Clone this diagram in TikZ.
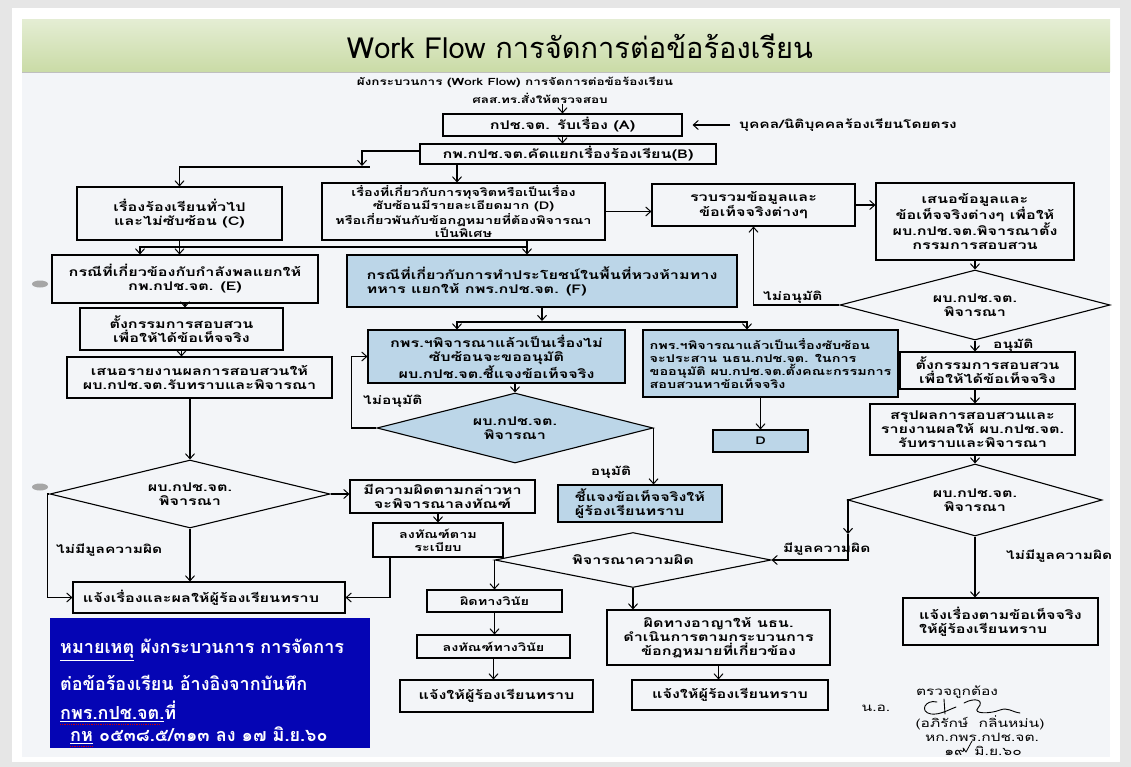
\documentclass[tikz,border=0pt]{standalone}
\usepackage{fontspec}
\setmainfont[Script=Thai]{Loma}
\newfontfamily\scan[Script=Thai,FakeStretch=1.35]{Loma}
\newfontfamily\ttl[Script=Thai]{Loma}
\usetikzlibrary{arrows.meta,shapes.geometric,calc}
\definecolor{canvas}{HTML}{E6E6E6}
\definecolor{paper}{HTML}{F3F5F8}
\definecolor{bandtop}{HTML}{E4EDD3}
\definecolor{bandbot}{HTML}{CADBA6}
\definecolor{lblue}{HTML}{BCD6E8}
\definecolor{noteblue}{HTML}{0505B4}
\tikzset{
  box/.style={draw=black, line width=1.1pt, fill=paper, inner sep=1pt, align=center,
    font=\scan\bfseries\fontsize{12}{14}\selectfont},
  sbox/.style={box, font=\scan\bfseries\fontsize{10.7}{13}\selectfont},
  bbox/.style={box, fill=lblue},
  sbbox/.style={sbox, fill=lblue},
  dia/.style={box, diamond, aspect=4, inner sep=0pt},
  arr/.style={line width=1.1pt, -{Straight Barb[length=5pt,width=9pt,line width=1pt]}},
  ln/.style={line width=1.1pt},
  lbl/.style={font=\scan\bfseries\fontsize{11.5}{13}\selectfont, inner sep=1pt},
  hdr/.style={font=\scan\bfseries\fontsize{10}{12}\selectfont, inner sep=1pt},
  sig/.style={font=\scan\fontsize{11.5}{13}\selectfont, inner sep=0pt},
  notetxt/.style={font=\ttl\bfseries\fontsize{18}{20}\selectfont, text=white, inner sep=0pt, anchor=west},
}
\begin{document}
\begin{tikzpicture}[x=1pt,y=-1pt]
\useasboundingbox (0,0) rectangle (1131,767);
% background
\fill[canvas] (0,0) rectangle (1131,767);
\fill[white] (12,8) rectangle (1120,762);
\fill[paper] (22,72) rectangle (1110,757);
\shade[top color=bandtop, bottom color=bandbot] (22,20) rectangle (1110,72);
\draw[gray!50, line width=0.6pt] (22,72) -- (1110,72);
\node[font=\ttl\fontsize{29}{32}\selectfont] (title) at (580,46) {Work Flow การจัดการต่อข้อร้องเรียน};
% punch marks
\fill[gray!70] (40,284) ellipse [x radius=8pt, y radius=3.5pt];
\fill[gray!70] (40,487) ellipse [x radius=8pt, y radius=3.5pt];

% header
\node[hdr] (h1) at (515,82) {ผังกระบวนการ (Work Flow) การจัดการต่อข้อร้องเรียน};
\node[hdr] (h2) at (540,98) {ศลส.ทร.สั่งให้ตรวจสอบ};

% top boxes
\node[box, minimum width=239pt, minimum height=22pt] (A) at (562.5,125) {กปช.จต. รับเรื่อง (A)};
\node[lbl, anchor=west] (src) at (738,125) {บุคคล/นิติบุคคลร้องเรียนโดยตรง};
\node[box, minimum width=296pt, minimum height=20pt] (B) at (568,154) {กพ.กปช.จต.คัดแยกเรื่องร้องเรียน(B)};

\node[box, minimum width=205pt, minimum height=53pt] (C) at (179.5,213.5) {เรื่องร้องเรียนทั่วไป\\และไม่ซับซ้อน (C)};
\node[sbox, minimum width=283pt, minimum height=57pt] (D) at (463.5,211.5) {เรื่องที่เกี่ยวกับการทุจริตหรือเป็นเรื่อง\\ซับซ้อนมีรายละเอียดมาก (D)\\หรือเกี่ยวพันกับข้อกฎหมายที่ต้องพิจารณา\\เป็นพิเศษ};
\node[box, minimum width=203pt, minimum height=42pt] (G) at (753.5,205) {รวบรวมข้อมูลและ\\ข้อเท็จจริงต่างๆ};
\node[box, minimum width=198pt, minimum height=77pt] (H) at (975,221.5) {เสนอข้อมูลและ\\ข้อเท็จจริงต่างๆ เพื่อให้\\ผบ.กปช.จต.พิจารณาตั้ง\\กรรมการสอบสวน};

% left column
\node[box, minimum width=266pt, minimum height=48pt] (E) at (185,279) {กรณีที่เกี่ยวข้องกับกำลังพลแยกให้\\กพ.กปช.จต. (E)};
\node[box, minimum width=203pt, minimum height=42pt] (E2) at (181.5,329) {ตั้งกรรมการสอบสวน\\เพื่อให้ได้ข้อเท็จจริง};
\node[box, minimum width=265pt, minimum height=41pt] (E3) at (199.5,377.5) {เสนอรายงานผลการสอบสวนให้\\ผบ.กปช.จต.รับทราบและพิจารณา};
\node[dia, minimum width=280pt, minimum height=68pt] (DL) at (190,494) {ผบ.กปช.จต.\\พิจารณา};
\node[box, minimum width=272pt, minimum height=31pt, align=left] (U) at (209,597.5) {แจ้งเรื่องและผลให้ผู้ร้องเรียนทราบ\hspace*{16pt}};
\node[box, minimum width=185pt, minimum height=33pt] (S) at (442.5,496.5) {มีความผิดตามกล่าวหา\\จะพิจารณาลงทัณฑ์};
\node[sbox, minimum width=130pt, minimum height=34pt] (T) at (438,540) {ลงทัณฑ์ตาม\\ระเบียบ};

% middle (blue)
\node[bbox, minimum width=390pt, minimum height=52pt, align=left] (F) at (542,281) {กรณีที่เกี่ยวกับการทำประโยชน์ในพื้นที่หวงห้ามทาง\\ทหาร แยกให้ กพร.กปช.จต. (F)};
\node[bbox, minimum width=257pt, minimum height=53pt] (L) at (496.5,356.5) {กพร.ฯพิจารณาแล้วเป็นเรื่องไม่\\ซับซ้อนจะขออนุมัติ\\ผบ.กปช.จต.ชี้แจงข้อเท็จจริง};
\node[sbbox, minimum width=255pt, minimum height=67pt, align=left] (M) at (770.5,363.5) {กพร.ฯพิจารณาแล้วเป็นเรื่องซับซ้อน\\จะประสาน นธน.กปช.จต. ในการ\\ขออนุมัติ ผบ.กปช.จต.ตั้งคณะกรรมการ\\สอบสวนหาข้อเท็จจริง};
\node[sbbox, minimum width=95pt, minimum height=22pt] (N) at (760.5,441) {D};
\node[dia, fill=lblue, minimum width=276pt, minimum height=70pt] (P1) at (515,428) {ผบ.กปช.จต.\\พิจารณา};
\node[bbox, minimum width=164pt, minimum height=37pt, align=left] (Q) at (640,503.5) {ชี้แจงข้อเท็จจริงให้\\ผู้ร้องเรียนทราบ};

% bottom middle
\node[dia, minimum width=276pt, minimum height=55pt] (P) at (633,560) {พิจารณาความผิด};
\node[sbox, minimum width=135pt, minimum height=22pt] (V) at (494.5,601) {ผิดทางวินัย};
\node[sbox, minimum width=153pt, minimum height=23pt] (W) at (493.5,646.5) {ลงทัณฑ์ทางวินัย};
\node[box, minimum width=193pt, minimum height=32pt] (X) at (496.5,696) {แจ้งให้ผู้ร้องเรียนทราบ};
\node[box, minimum width=223pt, minimum height=55pt] (Y) at (718.5,637.5) {ผิดทางอาญาให้ นธน.\\ดำเนินการตามกระบวนการ\\ข้อกฎหมายที่เกี่ยวข้อง};
\node[box, minimum width=196pt, minimum height=30pt] (Z) at (730,695) {แจ้งให้ผู้ร้องเรียนทราบ};

% right column
\node[dia, minimum width=270pt, minimum height=70pt] (R1) at (975,305) {ผบ.กปช.จต.\\พิจารณา};
\node[box, minimum width=175pt, minimum height=37pt] (I) at (987.5,370.5) {ตั้งกรรมการสอบสวน\\เพื่อให้ได้ข้อเท็จจริง};
\node[box, minimum width=205pt, minimum height=51pt] (J) at (972.5,429.5) {สรุปผลการสอบสวนและ\\รายงานผลให้ ผบ.กปช.จต.\\รับทราบและพิจารณา};
\node[dia, minimum width=254pt, minimum height=72pt] (R2) at (975,500) {ผบ.กปช.จต.\\พิจารณา};
\node[box, minimum width=195pt, minimum height=47pt, align=left] (K) at (1000.5,621.5) {แจ้งเรื่องตามข้อเท็จจริง\\ให้ผู้ร้องเรียนทราบ};

% labels
\node[lbl, anchor=west] (l1) at (762,297) {ไม่อนุมัติ};
\node[lbl, anchor=west] (l2) at (992,345) {อนุมัติ};
\node[lbl, anchor=west] (l3) at (362,401) {ไม่อนุมัติ};
\node[lbl] (l4) at (611,472) {อนุมัติ};
\node[lbl, anchor=west] (l5) at (55,550) {ไม่มีมูลความผิด};
\node[lbl, anchor=west] (l6) at (782,549) {มีมูลความผิด};
\node[lbl, anchor=west] (l7) at (1005,556) {ไม่มีมูลความผิด};

% connectors top
\draw[arr] (h2.south -| A.north) -- (A.north);
\draw[arr, shorten >=10pt, shorten <=8pt] (src.west) -- (A.east);
\draw[arr] (A.south) -- (A.south |- B.north);
\coordinate (bl) at (362,167);
\draw[arr] ([yshift=3pt]B.west) -| ([yshift=1pt]bl);
\draw[arr] (bl) -- ++(8,0) (bl) -| (C.north);
\draw[arr] ([xshift=-111pt]B.south) -- ([xshift=-111pt]B.south |- D.north);
\draw[arr] (D.east) -- (G.west |- D.east);
\draw[arr] (G.east) -- (H.west |- G.east);
\draw[arr] (H.south) -- (R1.north);
\draw[arr] (R1.west) -| (G.south);
\draw[arr] (R1.south) -- (R1.south |- I.north);
\draw[arr] (I.south -| R1.south) -- (J.north -| R1.south);
\draw[arr] (J.south -| R2.north) -- (R2.north);
\draw[arr] (R2.south) -- (R2.south |- K.north);
\coordinate (r2a) at (848,534);
\draw[arr] (R2.west) -| (r2a);
\draw[arr] (r2a) |- (P.east);

% D to F and E
\coordinate (dsp) at (527,247);
\draw[ln] (D.south -| dsp) -- (dsp);
\draw[arr] (dsp) -- (dsp |- F.north);
\draw[arr] (dsp) -| ([xshift=-45pt]E.north);
\draw[arr] (C.south) -- (C.south |- E.north);

% left column
\draw[arr] (E.south) -- (E.south |- E2.north);
\draw[arr] (E2.south) -- (E2.south |- E3.north);
\draw[arr] (DL.north |- E3.south) -- (DL.north);
\draw[arr] (DL.south) -- (DL.south |- U.north);
\draw[arr] (DL.west) -- ++(-2,0) |- (U.west);
\draw[arr] (DL.east) -- (S.west |- DL.east);
\draw[arr] (T.north |- S.south) -- (T.north);
\draw[arr] ([xshift=-48pt]T.south) |- (U.east);

% middle
\coordinate (fsp) at (542,322);
\draw[arr] (F.south) -- ([yshift=1pt]fsp);
\draw[arr] (fsp) -| ([xshift=-39.5pt]L.north);
\draw[arr] (fsp) -| ([xshift=-23.5pt]M.north);
\draw[arr] (N.north |- M.south) -- (N.north);
\draw[arr] (P1.north |- L.south) -- (P1.north);
\draw[arr] (P1.west) -- ++(-25,0) |- (L.west);
\draw[arr] (P1.east) -- (P1.east |- Q.north);

% bottom middle
\draw[arr] (P.west) -- (P.west |- V.north);
\draw[arr] (P.south) -- (P.south |- Y.north);
\draw[arr] (V.south) -- (V.south |- W.north);
\draw[arr] (W.south) -- (W.south |- X.north);
\draw[arr] (Y.south) -- (Y.south |- Z.north);

% note box
\node[fill=noteblue, minimum width=320pt, minimum height=130pt, inner sep=0pt] (note) at (210,683) {};
\node[notetxt] (n1) at (60,650) {\underline{หมายเหตุ} ผังกระบวนการ การจัดการ};
\node[notetxt] (n2) at (60,683) {ต่อข้อร้องเรียน อ้างอิงจากบันทึก};
\node[notetxt] (n3) at (60,711) {\underline{กพร.กปช.จต.}ที่};
\node[notetxt] (n4) at (70,735) {\underline{กห} ๐๕๓๘.๕/๓๑๓ ลง ๑๗ มิ.ย.๖๐};
\draw[red!80!black, line width=0.8pt, densely dotted] (n3.south west) ++(0,3) -- ++(100,0);
\draw[red!80!black, line width=0.8pt, densely dotted] (n4.south west) ++(0,3) -- ++(22,0);

% signature block
\node[sig] (chk) at (957,692) {ตรวจถูกต้อง};
\node[sig] (rank) at (876,708) {น.อ.};
\node[sig] (nm) at (980,723) {(อภิรักษ์~~กลิ่นหม่น)};
\node[sig] (pos) at (982,737) {หก.กพร.กปช.จต.};
\node[sig] (dt) at (983,751) {๑๙\hspace{9pt}มิ.ย.๖๐};
\draw[line width=0.9pt, line cap=round] (937,702) .. controls (925,699) and (919,712) .. (931,714) .. controls (940,715) and (948,710) .. (956,707);
\draw[line width=0.9pt, line cap=round] (944,699) -- (945,714);
\draw[line width=0.9pt, line cap=round] (964,703) .. controls (975,697) and (985,700) .. (978,708) .. controls (972,714) and (990,714) .. (1000,710) .. controls (1008,707) and (1012,712) .. (1020,713);
\draw[line width=0.8pt, line cap=round] (963,748) -- (966,752) -- (972,741);
\end{tikzpicture}
\end{document}
